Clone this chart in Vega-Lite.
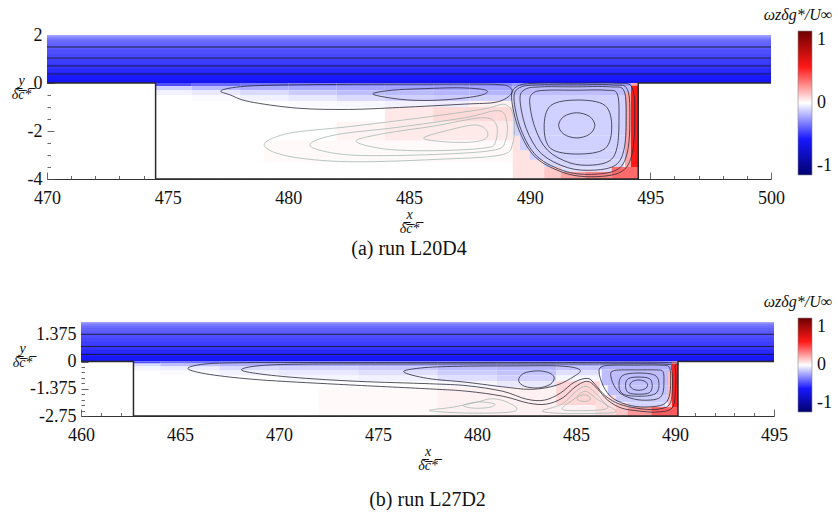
{
"$schema": "https://vega.github.io/schema/vega-lite/v6.json",
"background": "white",
"padding": {"left": 10, "top": 7, "right": 0, "bottom": 0},
"config": {"view": {"stroke": null}, "axis": {"grid": false}, "font": "Liberation Serif"},
"datasets": {
"sp": [{"v": 1}],
"a_cells": [
{"x":470,"x2":500,"y":0,"y2":2.0,"w":-0.2},
{"x":470,"x2":500,"y":0,"y2":1.95,"w":-0.25},
{"x":470,"x2":500,"y":0,"y2":1.88,"w":-0.29},
{"x":470,"x2":500,"y":0,"y2":1.8,"w":-0.32},
{"x":470,"x2":500,"y":0,"y2":1.7,"w":-0.34},
{"x":470,"x2":500,"y":0,"y2":1.55,"w":-0.36},
{"x":470,"x2":500,"y":0,"y2":1.4,"w":-0.38},
{"x":470,"x2":500,"y":0,"y2":1.2,"w":-0.4},
{"x":470,"x2":500,"y":0,"y2":1.0,"w":-0.42},
{"x":470,"x2":500,"y":0,"y2":0.8,"w":-0.44},
{"x":470,"x2":500,"y":0,"y2":0.6,"w":-0.46},
{"x":470,"x2":500,"y":0,"y2":0.45,"w":-0.48},
{"x":470,"x2":500,"y":0,"y2":0.3,"w":-0.5},
{"x":470,"x2":500,"y":0,"y2":0.15,"w":-0.53},
{"x":470,"x2":500,"y":0,"y2":0.06,"w":-0.56},
{"x":474.5,"x2":494.5,"y":-4,"y2":0,"w":0},
{"x":474.5,"x2":476,"y":-0.12,"y2":0,"w":-0.38},
{"x":474.5,"x2":476,"y":-0.3,"y2":-0.12,"w":-0.1},
{"x":474.5,"x2":476,"y":-0.5,"y2":-0.3,"w":-0.03},
{"x":476,"x2":478,"y":-0.12,"y2":0,"w":-0.33},
{"x":476,"x2":478,"y":-0.3,"y2":-0.12,"w":-0.15},
{"x":476,"x2":478,"y":-0.5,"y2":-0.3,"w":-0.05},
{"x":476,"x2":478,"y":-0.75,"y2":-0.5,"w":-0.01},
{"x":478,"x2":480,"y":-0.12,"y2":0,"w":-0.3},
{"x":478,"x2":480,"y":-0.3,"y2":-0.12,"w":-0.18},
{"x":478,"x2":480,"y":-0.5,"y2":-0.3,"w":-0.08},
{"x":478,"x2":480,"y":-0.75,"y2":-0.5,"w":-0.03},
{"x":480,"x2":482,"y":-0.12,"y2":0,"w":-0.28},
{"x":480,"x2":482,"y":-0.3,"y2":-0.12,"w":-0.19},
{"x":480,"x2":482,"y":-0.5,"y2":-0.3,"w":-0.11},
{"x":480,"x2":482,"y":-0.75,"y2":-0.5,"w":-0.05},
{"x":480,"x2":482,"y":-1.0,"y2":-0.75,"w":-0.01},
{"x":482,"x2":484,"y":-0.12,"y2":0,"w":-0.27},
{"x":482,"x2":484,"y":-0.3,"y2":-0.12,"w":-0.2},
{"x":482,"x2":484,"y":-0.5,"y2":-0.3,"w":-0.14},
{"x":482,"x2":484,"y":-0.75,"y2":-0.5,"w":-0.08},
{"x":482,"x2":484,"y":-1.0,"y2":-0.75,"w":-0.02},
{"x":484,"x2":486,"y":-0.12,"y2":0,"w":-0.26},
{"x":484,"x2":486,"y":-0.3,"y2":-0.12,"w":-0.2},
{"x":484,"x2":486,"y":-0.5,"y2":-0.3,"w":-0.15},
{"x":484,"x2":486,"y":-0.75,"y2":-0.5,"w":-0.1},
{"x":484,"x2":486,"y":-1.0,"y2":-0.75,"w":-0.03},
{"x":486,"x2":487.5,"y":-0.12,"y2":0,"w":-0.25},
{"x":486,"x2":487.5,"y":-0.3,"y2":-0.12,"w":-0.2},
{"x":486,"x2":487.5,"y":-0.5,"y2":-0.3,"w":-0.16},
{"x":486,"x2":487.5,"y":-0.75,"y2":-0.5,"w":-0.11},
{"x":486,"x2":487.5,"y":-1.0,"y2":-0.75,"w":-0.04},
{"x":487.5,"x2":489.3,"y":-0.12,"y2":0,"w":-0.26},
{"x":487.5,"x2":489.3,"y":-0.3,"y2":-0.12,"w":-0.2},
{"x":487.5,"x2":489.3,"y":-0.5,"y2":-0.3,"w":-0.16},
{"x":487.5,"x2":489.3,"y":-0.75,"y2":-0.5,"w":-0.1},
{"x":487.5,"x2":489.3,"y":-1.0,"y2":-0.75,"w":0.03},
{"x":479,"x2":489.3,"y":-3.3,"y2":-2.4,"w":0.012},
{"x":482,"x2":484,"y":-2.4,"y2":-1.6,"w":0.025},
{"x":484,"x2":489.3,"y":-2.4,"y2":-1.6,"w":0.045},
{"x":484,"x2":486,"y":-1.6,"y2":-1.0,"w":0.05},
{"x":486,"x2":489.3,"y":-1.6,"y2":-1.0,"w":0.08},
{"x":489.3,"x2":490.6,"y":-4,"y2":-2.2,"w":0.06},
{"x":489.3,"x2":494.2,"y":-0.15,"y2":0,"w":-0.22},
{"x":489.3,"x2":494.2,"y":-0.5,"y2":-0.15,"w":-0.14},
{"x":489.3,"x2":494.2,"y":-2.2,"y2":-0.5,"w":-0.1},
{"x":489.6,"x2":494.2,"y":-2.8,"y2":-2.2,"w":-0.1},
{"x":490.0,"x2":494.1,"y":-3.2,"y2":-2.8,"w":-0.1},
{"x":490.6,"x2":493.9,"y":-3.5,"y2":-3.2,"w":-0.09},
{"x":491.3,"x2":493.4,"y":-3.7,"y2":-3.5,"w":-0.07},
{"x":490.6,"x2":491.3,"y":-4,"y2":-3.5,"w":0.12},
{"x":491.3,"x2":492.3,"y":-4,"y2":-3.7,"w":0.2},
{"x":492.3,"x2":493.4,"y":-4,"y2":-3.7,"w":0.26},
{"x":493.4,"x2":494.5,"y":-4,"y2":-3.5,"w":0.32},
{"x":493.95,"x2":494.2,"y":-3.5,"y2":-0.4,"w":0.2},
{"x":494.2,"x2":494.5,"y":-3.5,"y2":-0.1,"w":0.5},
{"x":494.2,"x2":494.5,"y":-0.1,"y2":0,"w":0.2}
],
"a_bl": [
{"id":"B1","i":0,"x":470,"y":1.5},{"id":"B1","i":1,"x":500,"y":1.5},
{"id":"B2","i":0,"x":470,"y":1.04},{"id":"B2","i":1,"x":500,"y":1.04},
{"id":"B3","i":0,"x":470,"y":0.71},{"id":"B3","i":1,"x":500,"y":0.71},
{"id":"B4","i":0,"x":470,"y":0.375},{"id":"B4","i":1,"x":500,"y":0.375}
],
"a_wall": [
{"i":0,"x":470,"y":0},{"i":1,"x":474.5,"y":0},{"i":2,"x":474.5,"y":-4},{"i":3,"x":494.5,"y":-4},{"i":4,"x":494.5,"y":0},{"i":5,"x":500,"y":0}
],
"a_light": [
{"id":"L1","i":0,"x":479.0,"y":-2.58},{"id":"L1","i":1,"x":480.0,"y":-2.1},{"id":"L1","i":2,"x":482.5,"y":-1.82},{"id":"L1","i":3,"x":485.5,"y":-1.45},{"id":"L1","i":4,"x":488.0,"y":-1.1},{"id":"L1","i":5,"x":489.0,"y":-0.9},{"id":"L1","i":6,"x":489.35,"y":-1.5},{"id":"L1","i":7,"x":489.3,"y":-2.5},{"id":"L1","i":8,"x":488.8,"y":-3.0},{"id":"L1","i":9,"x":486.2,"y":-3.18},{"id":"L1","i":10,"x":482.5,"y":-3.28},{"id":"L1","i":11,"x":480.0,"y":-3.05},
{"id":"L2","i":0,"x":480.9,"y":-2.54},{"id":"L2","i":1,"x":482.0,"y":-2.15},{"id":"L2","i":2,"x":484.5,"y":-1.85},{"id":"L2","i":3,"x":487.3,"y":-1.45},{"id":"L2","i":4,"x":488.7,"y":-1.15},{"id":"L2","i":5,"x":489.05,"y":-1.6},{"id":"L2","i":6,"x":489.0,"y":-2.4},{"id":"L2","i":7,"x":488.5,"y":-2.8},{"id":"L2","i":8,"x":486.0,"y":-2.98},{"id":"L2","i":9,"x":483.0,"y":-3.02},{"id":"L2","i":10,"x":481.5,"y":-2.85},
{"id":"L3","i":0,"x":482.8,"y":-2.42},{"id":"L3","i":1,"x":484.0,"y":-2.1},{"id":"L3","i":2,"x":486.0,"y":-1.8},{"id":"L3","i":3,"x":488.0,"y":-1.45},{"id":"L3","i":4,"x":488.6,"y":-1.7},{"id":"L3","i":5,"x":488.6,"y":-2.4},{"id":"L3","i":6,"x":488.2,"y":-2.7},{"id":"L3","i":7,"x":486.0,"y":-2.82},{"id":"L3","i":8,"x":484.0,"y":-2.75},
{"id":"L4","i":0,"x":485.6,"y":-2.3},{"id":"L4","i":1,"x":486.5,"y":-2.0},{"id":"L4","i":2,"x":487.7,"y":-1.75},{"id":"L4","i":3,"x":488.2,"y":-1.95},{"id":"L4","i":4,"x":488.2,"y":-2.3},{"id":"L4","i":5,"x":487.6,"y":-2.46},{"id":"L4","i":6,"x":486.5,"y":-2.45}
],
"a_dark": [
{"id":"U1","i":0,"x":477.2,"y":-0.33},{"id":"U1","i":1,"x":477.8,"y":-0.18},{"id":"U1","i":2,"x":479.0,"y":-0.1},{"id":"U1","i":3,"x":482.0,"y":-0.06},{"id":"U1","i":4,"x":486.0,"y":-0.05},{"id":"U1","i":5,"x":488.6,"y":-0.06},{"id":"U1","i":6,"x":489.2,"y":-0.2},{"id":"U1","i":7,"x":489.2,"y":-0.5},{"id":"U1","i":8,"x":488.6,"y":-0.8},{"id":"U1","i":9,"x":487.3,"y":-0.88},{"id":"U1","i":10,"x":484.6,"y":-1.02},{"id":"U1","i":11,"x":482.5,"y":-1.1},{"id":"U1","i":12,"x":480.4,"y":-1.05},{"id":"U1","i":13,"x":478.4,"y":-0.78},{"id":"U1","i":14,"x":477.6,"y":-0.5},
{"id":"U2","i":0,"x":483.5,"y":-0.45},{"id":"U2","i":1,"x":484.3,"y":-0.3},{"id":"U2","i":2,"x":485.5,"y":-0.24},{"id":"U2","i":3,"x":487.0,"y":-0.2},{"id":"U2","i":4,"x":488.0,"y":-0.26},{"id":"U2","i":5,"x":488.25,"y":-0.38},{"id":"U2","i":6,"x":487.8,"y":-0.55},{"id":"U2","i":7,"x":486.5,"y":-0.7},{"id":"U2","i":8,"x":485.2,"y":-0.72},{"id":"U2","i":9,"x":484.2,"y":-0.62},
{"id":"V1","i":0,"x":491.2,"y":-1.765},{"id":"V1","i":1,"x":491.42,"y":-1.394},{"id":"V1","i":2,"x":491.95,"y":-1.24},{"id":"V1","i":3,"x":492.48,"y":-1.394},{"id":"V1","i":4,"x":492.7,"y":-1.765},{"id":"V1","i":5,"x":492.48,"y":-2.136},{"id":"V1","i":6,"x":491.95,"y":-2.29},{"id":"V1","i":7,"x":491.42,"y":-2.136},
{"id":"V2","i":0,"x":490.6,"y":-1.835},{"id":"V2","i":1,"x":490.88,"y":-0.935},{"id":"V2","i":2,"x":492.0,"y":-0.71},{"id":"V2","i":3,"x":493.12,"y":-0.935},{"id":"V2","i":4,"x":493.4,"y":-1.835},{"id":"V2","i":5,"x":493.12,"y":-2.735},{"id":"V2","i":6,"x":492.0,"y":-2.96},{"id":"V2","i":7,"x":490.88,"y":-2.735},
{"id":"V3","i":0,"x":490.0,"y":-0.77},{"id":"V3","i":1,"x":490.19,"y":-0.39},{"id":"V3","i":2,"x":490.74,"y":-0.3},{"id":"V3","i":3,"x":491.85,"y":-0.3},{"id":"V3","i":4,"x":493.15,"y":-0.3},{"id":"V3","i":5,"x":493.63,"y":-0.46},{"id":"V3","i":6,"x":493.7,"y":-1.55},{"id":"V3","i":7,"x":493.63,"y":-2.64},{"id":"V3","i":8,"x":493.33,"y":-3.23},{"id":"V3","i":9,"x":492.59,"y":-3.42},{"id":"V3","i":10,"x":491.67,"y":-3.33},{"id":"V3","i":11,"x":490.74,"y":-2.8},{"id":"V3","i":12,"x":490.22,"y":-1.86},
{"id":"V4","i":0,"x":489.6,"y":-0.68},{"id":"V4","i":1,"x":489.82,"y":-0.26},{"id":"V4","i":2,"x":490.48,"y":-0.16},{"id":"V4","i":3,"x":491.8,"y":-0.16},{"id":"V4","i":4,"x":493.34,"y":-0.16},{"id":"V4","i":5,"x":493.91,"y":-0.33},{"id":"V4","i":6,"x":494.0,"y":-1.55},{"id":"V4","i":7,"x":493.91,"y":-2.76},{"id":"V4","i":8,"x":493.56,"y":-3.42},{"id":"V4","i":9,"x":492.68,"y":-3.63},{"id":"V4","i":10,"x":491.58,"y":-3.53},{"id":"V4","i":11,"x":490.48,"y":-2.94},{"id":"V4","i":12,"x":489.86,"y":-1.9},
{"id":"V5","i":0,"x":489.35,"y":-0.64},{"id":"V5","i":1,"x":489.59,"y":-0.19},{"id":"V5","i":2,"x":490.31,"y":-0.08},{"id":"V5","i":3,"x":491.75,"y":-0.08},{"id":"V5","i":4,"x":493.43,"y":-0.08},{"id":"V5","i":5,"x":494.05,"y":-0.27},{"id":"V5","i":6,"x":494.15,"y":-1.57},{"id":"V5","i":7,"x":494.05,"y":-2.87},{"id":"V5","i":8,"x":493.67,"y":-3.58},{"id":"V5","i":9,"x":492.71,"y":-3.8},{"id":"V5","i":10,"x":491.51,"y":-3.69},{"id":"V5","i":11,"x":490.31,"y":-3.06},{"id":"V5","i":12,"x":489.64,"y":-1.94},
{"id":"V6","i":0,"x":489.25,"y":-0.6},{"id":"V6","i":1,"x":489.5,"y":-0.13},{"id":"V6","i":2,"x":490.27,"y":-0.01},{"id":"V6","i":3,"x":491.8,"y":-0.01},{"id":"V6","i":4,"x":493.59,"y":-0.01},{"id":"V6","i":5,"x":494.25,"y":-0.2},{"id":"V6","i":6,"x":494.35,"y":-1.57},{"id":"V6","i":7,"x":494.25,"y":-2.93},{"id":"V6","i":8,"x":493.84,"y":-3.67},{"id":"V6","i":9,"x":492.82,"y":-3.9},{"id":"V6","i":10,"x":491.55,"y":-3.78},{"id":"V6","i":11,"x":490.27,"y":-3.12},{"id":"V6","i":12,"x":489.56,"y":-1.96}
],
"b_cells": [
{"x":460,"x2":495,"y":0,"y2":2.0,"w":-0.2},
{"x":460,"x2":495,"y":0,"y2":1.95,"w":-0.25},
{"x":460,"x2":495,"y":0,"y2":1.88,"w":-0.29},
{"x":460,"x2":495,"y":0,"y2":1.8,"w":-0.32},
{"x":460,"x2":495,"y":0,"y2":1.7,"w":-0.34},
{"x":460,"x2":495,"y":0,"y2":1.55,"w":-0.36},
{"x":460,"x2":495,"y":0,"y2":1.4,"w":-0.38},
{"x":460,"x2":495,"y":0,"y2":1.2,"w":-0.4},
{"x":460,"x2":495,"y":0,"y2":1.0,"w":-0.42},
{"x":460,"x2":495,"y":0,"y2":0.8,"w":-0.44},
{"x":460,"x2":495,"y":0,"y2":0.6,"w":-0.46},
{"x":460,"x2":495,"y":0,"y2":0.45,"w":-0.48},
{"x":460,"x2":495,"y":0,"y2":0.3,"w":-0.5},
{"x":460,"x2":495,"y":0,"y2":0.15,"w":-0.53},
{"x":460,"x2":495,"y":0,"y2":0.06,"w":-0.56},
{"x":462.65,"x2":490.15,"y":-2.75,"y2":0,"w":0},
{"x":462.65,"x2":464,"y":-0.1,"y2":0,"w":-0.38},
{"x":462.65,"x2":464,"y":-0.25,"y2":-0.1,"w":-0.08},
{"x":462.65,"x2":464,"y":-0.45,"y2":-0.25,"w":-0.02},
{"x":464,"x2":467,"y":-0.1,"y2":0,"w":-0.32},
{"x":464,"x2":467,"y":-0.25,"y2":-0.1,"w":-0.14},
{"x":464,"x2":467,"y":-0.45,"y2":-0.25,"w":-0.04},
{"x":464,"x2":467,"y":-0.7,"y2":-0.45,"w":-0.01},
{"x":467,"x2":470,"y":-0.1,"y2":0,"w":-0.3},
{"x":467,"x2":470,"y":-0.25,"y2":-0.1,"w":-0.17},
{"x":467,"x2":470,"y":-0.45,"y2":-0.25,"w":-0.08},
{"x":467,"x2":470,"y":-0.7,"y2":-0.45,"w":-0.03},
{"x":470,"x2":474,"y":-0.1,"y2":0,"w":-0.28},
{"x":470,"x2":474,"y":-0.25,"y2":-0.1,"w":-0.18},
{"x":470,"x2":474,"y":-0.45,"y2":-0.25,"w":-0.1},
{"x":470,"x2":474,"y":-0.7,"y2":-0.45,"w":-0.05},
{"x":470,"x2":474,"y":-1.0,"y2":-0.7,"w":-0.02},
{"x":474,"x2":478,"y":-0.1,"y2":0,"w":-0.27},
{"x":474,"x2":478,"y":-0.25,"y2":-0.1,"w":-0.19},
{"x":474,"x2":478,"y":-0.45,"y2":-0.25,"w":-0.12},
{"x":474,"x2":478,"y":-0.7,"y2":-0.45,"w":-0.07},
{"x":474,"x2":478,"y":-1.0,"y2":-0.7,"w":-0.03},
{"x":478,"x2":481,"y":-0.1,"y2":0,"w":-0.26},
{"x":478,"x2":481,"y":-0.25,"y2":-0.1,"w":-0.2},
{"x":478,"x2":481,"y":-0.45,"y2":-0.25,"w":-0.15},
{"x":478,"x2":481,"y":-0.7,"y2":-0.45,"w":-0.11},
{"x":478,"x2":481,"y":-1.0,"y2":-0.7,"w":-0.07},
{"x":478,"x2":481,"y":-1.3,"y2":-1.0,"w":-0.02},
{"x":481,"x2":484,"y":-0.1,"y2":0,"w":-0.26},
{"x":481,"x2":484,"y":-0.25,"y2":-0.1,"w":-0.2},
{"x":481,"x2":484,"y":-0.45,"y2":-0.25,"w":-0.16},
{"x":481,"x2":484,"y":-0.7,"y2":-0.45,"w":-0.13},
{"x":481,"x2":484,"y":-1.0,"y2":-0.7,"w":-0.1},
{"x":481,"x2":484,"y":-1.3,"y2":-1.0,"w":-0.05},
{"x":484,"x2":486.2,"y":-0.1,"y2":0,"w":-0.25},
{"x":484,"x2":486.2,"y":-0.25,"y2":-0.1,"w":-0.19},
{"x":484,"x2":486.2,"y":-0.45,"y2":-0.25,"w":-0.13},
{"x":484,"x2":486.2,"y":-0.7,"y2":-0.45,"w":-0.07},
{"x":484,"x2":486.2,"y":-1.0,"y2":-0.7,"w":-0.02},
{"x":472,"x2":478,"y":-2.75,"y2":-1.3,"w":0.012},
{"x":478,"x2":486.2,"y":-2.75,"y2":-1.3,"w":0.03},
{"x":484,"x2":486.2,"y":-2.2,"y2":-1.0,"w":0.09},
{"x":486.0,"x2":487.0,"y":-2.75,"y2":-1.7,"w":0.07},
{"x":486.2,"x2":489.85,"y":-0.12,"y2":0,"w":-0.24},
{"x":486.2,"x2":489.85,"y":-0.4,"y2":-0.12,"w":-0.17},
{"x":486.3,"x2":489.8,"y":-1.2,"y2":-0.4,"w":-0.14},
{"x":486.6,"x2":489.8,"y":-1.7,"y2":-1.2,"w":-0.13},
{"x":487.0,"x2":489.7,"y":-2.05,"y2":-1.7,"w":-0.11},
{"x":487.6,"x2":489.5,"y":-2.3,"y2":-2.05,"w":-0.09},
{"x":487.0,"x2":487.6,"y":-2.75,"y2":-2.1,"w":0.12},
{"x":487.6,"x2":488.8,"y":-2.75,"y2":-2.3,"w":0.22},
{"x":488.8,"x2":490.15,"y":-2.75,"y2":-2.3,"w":0.35},
{"x":489.65,"x2":489.85,"y":-2.3,"y2":-0.5,"w":0.15},
{"x":489.85,"x2":490.15,"y":-2.3,"y2":-0.12,"w":0.48},
{"x":489.85,"x2":490.15,"y":-0.12,"y2":0,"w":0.2}
],
"b_bl": [
{"id":"B1","i":0,"x":460,"y":1.38},{"id":"B1","i":1,"x":495,"y":1.38},
{"id":"B2","i":0,"x":460,"y":0.76},{"id":"B2","i":1,"x":495,"y":0.76},
{"id":"B3","i":0,"x":460,"y":0.36},{"id":"B3","i":1,"x":495,"y":0.36}
],
"b_wall": [
{"i":0,"x":460,"y":0},{"i":1,"x":462.65,"y":0},{"i":2,"x":462.65,"y":-2.75},{"i":3,"x":490.15,"y":-2.75},{"i":4,"x":490.15,"y":0},{"i":5,"x":495,"y":0}
],
"b_light": [
{"id":"P1","i":0,"x":477.6,"y":-2.48},{"id":"P1","i":1,"x":478.8,"y":-2.3},{"id":"P1","i":2,"x":480.0,"y":-2.05},{"id":"P1","i":3,"x":480.7,"y":-1.88},{"id":"P1","i":4,"x":481.4,"y":-2.0},{"id":"P1","i":5,"x":482.0,"y":-2.35},{"id":"P1","i":6,"x":481.6,"y":-2.56},{"id":"P1","i":7,"x":479.5,"y":-2.6},
{"id":"P2","i":0,"x":479.3,"y":-2.22},{"id":"P2","i":1,"x":479.8,"y":-2.07},{"id":"P2","i":2,"x":480.3,"y":-2.04},{"id":"P2","i":3,"x":480.9,"y":-2.15},{"id":"P2","i":4,"x":480.6,"y":-2.32},{"id":"P2","i":5,"x":479.8,"y":-2.35},
{"id":"T1","i":0,"x":483.3,"y":-2.5},{"id":"T1","i":1,"x":484.3,"y":-2.15},{"id":"T1","i":2,"x":485.0,"y":-1.5},{"id":"T1","i":3,"x":485.5,"y":-1.25},{"id":"T1","i":4,"x":485.95,"y":-1.55},{"id":"T1","i":5,"x":486.5,"y":-2.15},{"id":"T1","i":6,"x":487.0,"y":-2.55},{"id":"T1","i":7,"x":485.5,"y":-2.62},{"id":"T1","i":8,"x":484.3,"y":-2.62},
{"id":"T2","i":0,"x":484.3,"y":-2.4},{"id":"T2","i":1,"x":484.9,"y":-1.9},{"id":"T2","i":2,"x":485.45,"y":-1.5},{"id":"T2","i":3,"x":486.0,"y":-1.85},{"id":"T2","i":4,"x":486.6,"y":-2.35},{"id":"T2","i":5,"x":485.4,"y":-2.48},
{"id":"T3","i":0,"x":485.05,"y":-1.85},{"id":"T3","i":1,"x":485.35,"y":-1.68},{"id":"T3","i":2,"x":485.7,"y":-1.78},{"id":"T3","i":3,"x":485.65,"y":-1.98},{"id":"T3","i":4,"x":485.25,"y":-2.0}
],
"b_dark": [
{"id":"O1","i":0,"x":465.4,"y":-0.36},{"id":"O1","i":1,"x":466.2,"y":-0.13},{"id":"O1","i":2,"x":468,"y":-0.06},{"id":"O1","i":3,"x":472,"y":-0.05},{"id":"O1","i":4,"x":478,"y":-0.05},{"id":"O1","i":5,"x":484,"y":-0.05},{"id":"O1","i":6,"x":489.6,"y":-0.05},{"id":"O1","i":7,"x":490.0,"y":-0.3},{"id":"O1","i":8,"x":490.02,"y":-1.5},{"id":"O1","i":9,"x":489.85,"y":-2.35},{"id":"O1","i":10,"x":489.1,"y":-2.55},{"id":"O1","i":11,"x":488.2,"y":-2.5},{"id":"O1","i":12,"x":487.3,"y":-2.35},{"id":"O1","i":13,"x":486.6,"y":-1.95},{"id":"O1","i":14,"x":486.1,"y":-1.4},{"id":"O1","i":15,"x":485.6,"y":-1.0},{"id":"O1","i":16,"x":485.0,"y":-1.25},{"id":"O1","i":17,"x":484.3,"y":-1.85},{"id":"O1","i":18,"x":483.5,"y":-2.15},{"id":"O1","i":19,"x":482.6,"y":-2.1},{"id":"O1","i":20,"x":481.3,"y":-1.75},{"id":"O1","i":21,"x":479.5,"y":-1.5},{"id":"O1","i":22,"x":477.6,"y":-1.38},{"id":"O1","i":23,"x":473,"y":-1.15},{"id":"O1","i":24,"x":469,"y":-0.92},{"id":"O1","i":25,"x":466.5,"y":-0.65},
{"id":"O2","i":0,"x":468.1,"y":-0.42},{"id":"O2","i":1,"x":468.9,"y":-0.22},{"id":"O2","i":2,"x":471,"y":-0.13},{"id":"O2","i":3,"x":476,"y":-0.12},{"id":"O2","i":4,"x":482,"y":-0.12},{"id":"O2","i":5,"x":486,"y":-0.12},{"id":"O2","i":6,"x":489.45,"y":-0.13},{"id":"O2","i":7,"x":489.82,"y":-0.36},{"id":"O2","i":8,"x":489.86,"y":-1.5},{"id":"O2","i":9,"x":489.7,"y":-2.2},{"id":"O2","i":10,"x":489.0,"y":-2.42},{"id":"O2","i":11,"x":488.1,"y":-2.36},{"id":"O2","i":12,"x":487.2,"y":-2.15},{"id":"O2","i":13,"x":486.5,"y":-1.75},{"id":"O2","i":14,"x":486.0,"y":-1.2},{"id":"O2","i":15,"x":485.6,"y":-0.85},{"id":"O2","i":16,"x":484.9,"y":-1.05},{"id":"O2","i":17,"x":484.2,"y":-1.6},{"id":"O2","i":18,"x":483.4,"y":-1.95},{"id":"O2","i":19,"x":482.5,"y":-1.9},{"id":"O2","i":20,"x":481.3,"y":-1.5},{"id":"O2","i":21,"x":479.5,"y":-1.22},{"id":"O2","i":22,"x":477.6,"y":-1.12},{"id":"O2","i":23,"x":474,"y":-1.0},{"id":"O2","i":24,"x":471,"y":-0.82},{"id":"O2","i":25,"x":469,"y":-0.62},
{"id":"M1","i":0,"x":476.3,"y":-0.52},{"id":"M1","i":1,"x":477.2,"y":-0.32},{"id":"M1","i":2,"x":479,"y":-0.24},{"id":"M1","i":3,"x":482,"y":-0.22},{"id":"M1","i":4,"x":484.3,"y":-0.23},{"id":"M1","i":5,"x":485.2,"y":-0.42},{"id":"M1","i":6,"x":484.9,"y":-0.75},{"id":"M1","i":7,"x":484.0,"y":-1.2},{"id":"M1","i":8,"x":482.8,"y":-1.4},{"id":"M1","i":9,"x":481.5,"y":-1.3},{"id":"M1","i":10,"x":479.5,"y":-1.05},{"id":"M1","i":11,"x":477.5,"y":-0.85},
{"id":"M2","i":0,"x":482.1,"y":-0.95},{"id":"M2","i":1,"x":482.35,"y":-0.6},{"id":"M2","i":2,"x":483.0,"y":-0.47},{"id":"M2","i":3,"x":483.6,"y":-0.55},{"id":"M2","i":4,"x":483.9,"y":-0.8},{"id":"M2","i":5,"x":483.7,"y":-1.15},{"id":"M2","i":6,"x":483.1,"y":-1.33},{"id":"M2","i":7,"x":482.4,"y":-1.25},
{"id":"R1","i":0,"x":486.16,"y":-0.5},{"id":"R1","i":1,"x":486.34,"y":-0.24},{"id":"R1","i":2,"x":486.88,"y":-0.18},{"id":"R1","i":3,"x":487.97,"y":-0.18},{"id":"R1","i":4,"x":489.24,"y":-0.18},{"id":"R1","i":5,"x":489.71,"y":-0.29},{"id":"R1","i":6,"x":489.78,"y":-1.02},{"id":"R1","i":7,"x":489.71,"y":-1.76},{"id":"R1","i":8,"x":489.42,"y":-2.16},{"id":"R1","i":9,"x":488.69,"y":-2.29},{"id":"R1","i":10,"x":487.79,"y":-2.23},{"id":"R1","i":11,"x":486.88,"y":-1.87},{"id":"R1","i":12,"x":486.38,"y":-1.24},
{"id":"R2","i":0,"x":486.75,"y":-0.65},{"id":"R2","i":1,"x":486.88,"y":-0.47},{"id":"R2","i":2,"x":487.29,"y":-0.42},{"id":"R2","i":3,"x":488.1,"y":-0.42},{"id":"R2","i":4,"x":489.04,"y":-0.42},{"id":"R2","i":5,"x":489.39,"y":-0.5},{"id":"R2","i":6,"x":489.44,"y":-1.03},{"id":"R2","i":7,"x":489.39,"y":-1.57},{"id":"R2","i":8,"x":489.17,"y":-1.86},{"id":"R2","i":9,"x":488.63,"y":-1.95},{"id":"R2","i":10,"x":487.96,"y":-1.9},{"id":"R2","i":11,"x":487.29,"y":-1.64},{"id":"R2","i":12,"x":486.91,"y":-1.19},
{"id":"R3","i":0,"x":487.17,"y":-1.165},{"id":"R3","i":1,"x":487.37,"y":-0.695},{"id":"R3","i":2,"x":488.18,"y":-0.58},{"id":"R3","i":3,"x":488.99,"y":-0.695},{"id":"R3","i":4,"x":489.19,"y":-1.165},{"id":"R3","i":5,"x":488.99,"y":-1.635},{"id":"R3","i":6,"x":488.18,"y":-1.75},{"id":"R3","i":7,"x":487.37,"y":-1.635},
{"id":"R4","i":0,"x":487.5,"y":-1.215},{"id":"R4","i":1,"x":487.635,"y":-0.865},{"id":"R4","i":2,"x":488.175,"y":-0.78},{"id":"R4","i":3,"x":488.715,"y":-0.865},{"id":"R4","i":4,"x":488.85,"y":-1.215},{"id":"R4","i":5,"x":488.715,"y":-1.565},{"id":"R4","i":6,"x":488.175,"y":-1.65},{"id":"R4","i":7,"x":487.635,"y":-1.565},
{"id":"R5","i":0,"x":487.72,"y":-1.19},{"id":"R5","i":1,"x":487.85,"y":-1.006},{"id":"R5","i":2,"x":488.17,"y":-0.93},{"id":"R5","i":3,"x":488.49,"y":-1.006},{"id":"R5","i":4,"x":488.62,"y":-1.19},{"id":"R5","i":5,"x":488.49,"y":-1.374},{"id":"R5","i":6,"x":488.17,"y":-1.45},{"id":"R5","i":7,"x":487.85,"y":-1.374}
]
},
"vconcat": [
{
"spacing": 0,
"resolve": {"scale": {"color": "independent"}},
"hconcat": [
{"width": 1, "height": 1, "data": {"name": "sp"}, "mark": {"type": "point", "opacity": 0, "size": 1}, "encoding": {}},
{
"width": 724, "height": 144,
"title": {"text": "(a) run L20D4", "orient": "bottom", "anchor": "middle", "frame": "group", "font": "Liberation Serif", "fontSize": 20, "fontWeight": "normal", "color": "#111", "offset": 4},
"resolve": {"axis": {"x": "independent", "y": "independent"}},
"layer": [
{
"data": {"name": "a_cells"},
"mark": {"type": "rect"},
"encoding": {
"x": {"field": "x", "type": "quantitative", "scale": {"domain": [470, 500], "nice": false},
 "axis": {"values": [470,475,480,485,490,495,500], "format": "d", "tickSize": -7, "tickColor": "#444", "tickWidth": 0.8, "domain": true, "domainColor": "#333", "domainWidth": 1.2, "labelFont": "Liberation Serif", "labelFontSize": 18, "labelColor": "#111", "labelPadding": 17, "labelFlush": false, "title": ["x", "δ̅c̅*̅"], "titleFont": "Liberation Serif", "titleFontSize": 14, "titleFontWeight": "normal", "titleFontStyle": "italic", "titleColor": "#111", "titleLineHeight": 14, "titlePadding": 0}},
"x2": {"field": "x2"},
"y": {"field": "y", "type": "quantitative", "scale": {"domain": [-4, 2], "nice": false},
 "axis": {"values": [-4,-2,0,2], "format": "d", "labelExpr": "replace(datum.label, '\u2212', '-')", "tickSize": -7, "tickColor": "#444", "tickWidth": 0.8, "domain": false, "labelFont": "Liberation Serif", "labelFontSize": 18, "labelColor": "#111", "labelPadding": 12, "labelFlush": false, "title": ["y", "δ̅c̅*̅"], "titleAngle": 0, "titleAlign": "center", "titleBaseline": "top", "titleX": -26, "titleY": 38, "titleFont": "Liberation Serif", "titleFontSize": 14, "titleFontWeight": "normal", "titleFontStyle": "italic", "titleColor": "#111", "titleLineHeight": 14}},
"y2": {"field": "y2"},
"color": {"field": "w", "type": "quantitative", "scale": {"domain": [-1,-0.5,0,0.5,1], "range": ["#00006e","#1818ff","#ffffff","#ff1818","#6e0000"], "interpolate": "rgb"},
 "legend": {"orient": "none", "legendX": 717, "legendY": -28, "direction": "vertical", "gradientLength": 144, "gradientThickness": 14, "values": [-1,0,1], "format": "d", "labelExpr": "replace(datum.label, '\u2212', '-')", "labelFont": "Liberation Serif", "labelFontSize": 18, "labelColor": "#111", "labelOffset": 5, "labelOverlap": false, "title": "ωzδg*/U∞", "titleFont": "Liberation Serif", "titleFontSize": 16, "titleFontWeight": "normal", "titleFontStyle": "italic", "titleColor": "#111", "titlePadding": 8, "titleAlign": "center", "titleAnchor": "start", "gradientStrokeColor": "#888", "gradientStrokeWidth": 0.6}}
}
},
{
"data": {"name": "a_bl"},
"mark": {"type": "line", "stroke": "#1c1c2c", "strokeWidth": 0.9},
"encoding": {
"x": {"field": "x", "type": "quantitative", "scale": {"domain": [470, 500], "nice": false}, "axis": {"orient": "bottom", "values": [471,472,473,474,476,477,478,479,481,482,483,484,486,487,488,489,491,492,493,494,496,497,498,499], "tickSize": -3.5, "tickColor": "#444", "tickWidth": 0.8, "labels": false, "domain": false, "title": null}},
"y": {"field": "y", "type": "quantitative", "scale": {"domain": [-4, 2], "nice": false}, "axis": {"orient": "left", "values": [-3.5,-3,-2.5,-1.5,-1,-0.5], "tickSize": -3.5, "tickColor": "#444", "tickWidth": 0.8, "labels": false, "domain": false, "title": null}},
"detail": {"field": "id"},
"order": {"field": "i"}
}
},
{
"data": {"name": "a_light"},
"mark": {"type": "line", "interpolate": "cardinal-closed", "stroke": "#a3b9b2", "strokeWidth": 0.8},
"encoding": {
"x": {"field": "x", "type": "quantitative", "scale": {"domain": [470, 500], "nice": false}, "axis": null},
"y": {"field": "y", "type": "quantitative", "scale": {"domain": [-4, 2], "nice": false}, "axis": null},
"detail": {"field": "id"},
"order": {"field": "i"}
}
},
{
"data": {"name": "a_dark"},
"mark": {"type": "line", "interpolate": "cardinal-closed", "stroke": "#2a2a38", "strokeWidth": 0.8},
"encoding": {
"x": {"field": "x", "type": "quantitative", "scale": {"domain": [470, 500], "nice": false}, "axis": null},
"y": {"field": "y", "type": "quantitative", "scale": {"domain": [-4, 2], "nice": false}, "axis": null},
"detail": {"field": "id"},
"order": {"field": "i"}
}
},
{
"data": {"name": "a_wall"},
"mark": {"type": "line", "stroke": "#2a2a2a", "strokeWidth": 1.5},
"encoding": {
"x": {"field": "x", "type": "quantitative", "scale": {"domain": [470, 500], "nice": false}, "axis": null},
"y": {"field": "y", "type": "quantitative", "scale": {"domain": [-4, 2], "nice": false}, "axis": null},
"order": {"field": "i"}
}
}
]
}
]
},
{
"spacing": 0,
"resolve": {"scale": {"color": "independent"}},
"hconcat": [
{"width": 2, "height": 1, "data": {"name": "sp"}, "mark": {"type": "point", "opacity": 0, "size": 1}, "encoding": {}},
{
"width": 693, "height": 94,
"title": {"text": "(b) run L27D2", "orient": "bottom", "anchor": "middle", "frame": "group", "font": "Liberation Serif", "fontSize": 20, "fontWeight": "normal", "color": "#111", "offset": 18},
"resolve": {"axis": {"x": "independent", "y": "independent"}},
"layer": [
{
"data": {"name": "b_cells"},
"mark": {"type": "rect"},
"encoding": {
"x": {"field": "x", "type": "quantitative", "scale": {"domain": [460, 495], "nice": false},
 "axis": {"values": [460,465,470,475,480,485,490,495], "format": "d", "tickSize": -7, "tickColor": "#444", "tickWidth": 0.8, "domain": true, "domainColor": "#333", "domainWidth": 1.2, "labelFont": "Liberation Serif", "labelFontSize": 18, "labelColor": "#111", "labelPadding": 17, "labelFlush": false, "title": ["x", "δ̅c̅*̅"], "titleFont": "Liberation Serif", "titleFontSize": 14, "titleFontWeight": "normal", "titleFontStyle": "italic", "titleColor": "#111", "titleLineHeight": 14, "titlePadding": 0}},
"x2": {"field": "x2"},
"y": {"field": "y", "type": "quantitative", "scale": {"domain": [-2.75, 2], "nice": false},
 "axis": {"values": [-2.75,-1.375,0,1.375], "format": ".4~f", "labelExpr": "replace(datum.label, '\u2212', '-')", "tickSize": -7, "tickColor": "#444", "tickWidth": 0.8, "domain": false, "labelFont": "Liberation Serif", "labelFontSize": 18, "labelColor": "#111", "labelPadding": 12, "labelFlush": false, "title": ["y", "δ̅c̅*̅"], "titleAngle": 0, "titleAlign": "center", "titleBaseline": "top", "titleX": -59, "titleY": 19, "titleFont": "Liberation Serif", "titleFontSize": 14, "titleFontWeight": "normal", "titleFontStyle": "italic", "titleColor": "#111", "titleLineHeight": 14}},
"y2": {"field": "y2"},
"color": {"field": "w", "type": "quantitative", "scale": {"domain": [-1,-0.5,0,0.5,1], "range": ["#00006e","#1818ff","#ffffff","#ff1818","#6e0000"], "interpolate": "rgb"},
 "legend": {"orient": "none", "legendX": 683, "legendY": -28, "direction": "vertical", "gradientLength": 94, "gradientThickness": 14, "values": [-1,0,1], "format": "d", "labelExpr": "replace(datum.label, '\u2212', '-')", "labelFont": "Liberation Serif", "labelFontSize": 18, "labelColor": "#111", "labelOffset": 5, "labelOverlap": false, "title": "ωzδg*/U∞", "titleFont": "Liberation Serif", "titleFontSize": 16, "titleFontWeight": "normal", "titleFontStyle": "italic", "titleColor": "#111", "titlePadding": 8, "titleAlign": "center", "titleAnchor": "start", "gradientStrokeColor": "#888", "gradientStrokeWidth": 0.6}}
}
},
{
"data": {"name": "b_bl"},
"mark": {"type": "line", "stroke": "#1c1c2c", "strokeWidth": 0.9},
"encoding": {
"x": {"field": "x", "type": "quantitative", "scale": {"domain": [460, 495], "nice": false}, "axis": {"orient": "bottom", "values": [461,462,463,464,466,467,468,469,471,472,473,474,476,477,478,479,481,482,483,484,486,487,488,489,491,492,493,494], "tickSize": -3.5, "tickColor": "#444", "tickWidth": 0.8, "labels": false, "domain": false, "title": null}},
"y": {"field": "y", "type": "quantitative", "scale": {"domain": [-2.75, 2], "nice": false}, "axis": {"orient": "left", "values": [-2.475,-2.2,-1.925,-1.65,-1.1,-0.825,-0.55,-0.275], "tickSize": -3.5, "tickColor": "#444", "tickWidth": 0.8, "labels": false, "domain": false, "title": null}},
"detail": {"field": "id"},
"order": {"field": "i"}
}
},
{
"data": {"name": "b_light"},
"mark": {"type": "line", "interpolate": "cardinal-closed", "stroke": "#a3b9b2", "strokeWidth": 0.8},
"encoding": {
"x": {"field": "x", "type": "quantitative", "scale": {"domain": [460, 495], "nice": false}, "axis": null},
"y": {"field": "y", "type": "quantitative", "scale": {"domain": [-2.75, 2], "nice": false}, "axis": null},
"detail": {"field": "id"},
"order": {"field": "i"}
}
},
{
"data": {"name": "b_dark"},
"mark": {"type": "line", "interpolate": "cardinal-closed", "stroke": "#2a2a38", "strokeWidth": 0.8},
"encoding": {
"x": {"field": "x", "type": "quantitative", "scale": {"domain": [460, 495], "nice": false}, "axis": null},
"y": {"field": "y", "type": "quantitative", "scale": {"domain": [-2.75, 2], "nice": false}, "axis": null},
"detail": {"field": "id"},
"order": {"field": "i"}
}
},
{
"data": {"name": "b_wall"},
"mark": {"type": "line", "stroke": "#2a2a2a", "strokeWidth": 1.5},
"encoding": {
"x": {"field": "x", "type": "quantitative", "scale": {"domain": [460, 495], "nice": false}, "axis": null},
"y": {"field": "y", "type": "quantitative", "scale": {"domain": [-2.75, 2], "nice": false}, "axis": null},
"order": {"field": "i"}
}
}
]
}
]
}
],
"spacing": 35,
"resolve": {"scale": {"color": "independent"}}
}
